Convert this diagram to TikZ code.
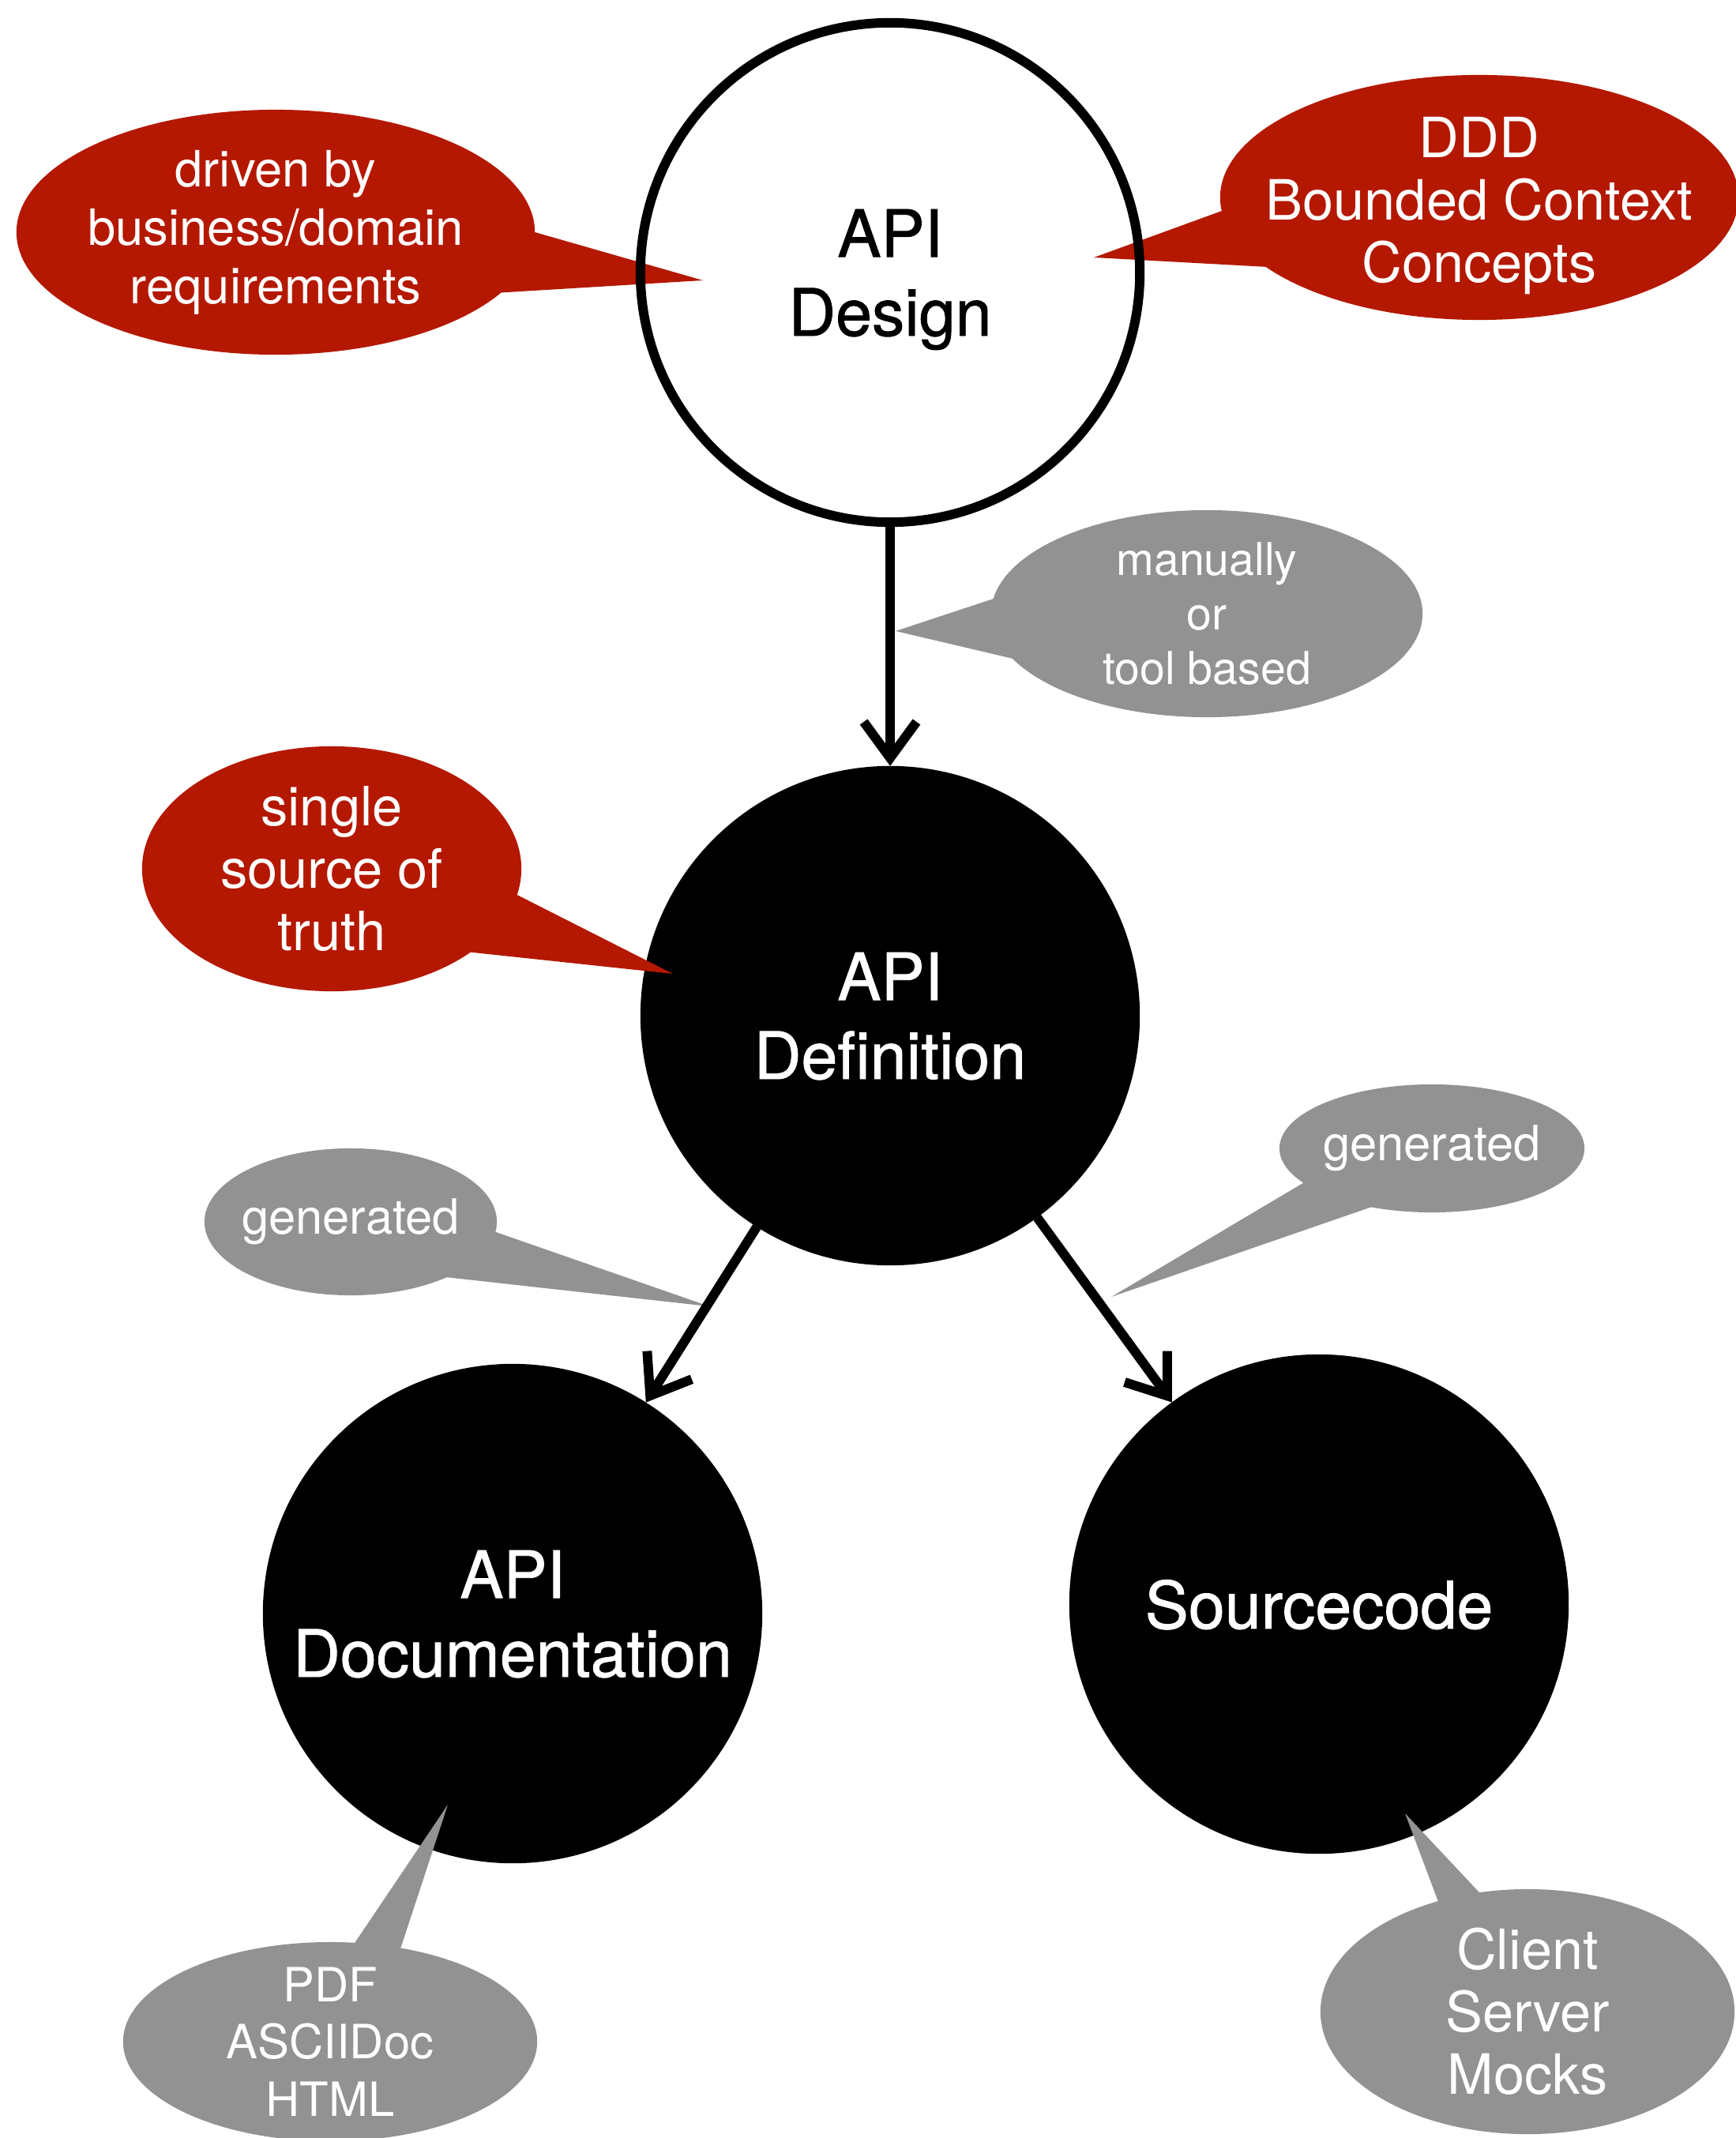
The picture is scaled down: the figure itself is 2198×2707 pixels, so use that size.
\documentclass[tikz,border=0pt]{standalone}
\usepackage{fontspec}
\setmainfont{TeX Gyre Heros}
\newfontfamily\topicfont{TeX Gyre Heros}[FakeBold=1]
\usetikzlibrary{arrows.meta,shapes.geometric}
\definecolor{bubblered}{RGB}{180,24,0}
\definecolor{bubblegray}{RGB}{146,146,146}

\begin{document}
\begin{tikzpicture}[x=0.01cm,y=-0.01cm,
  topic/.style={circle,minimum size=6.32cm,inner sep=0pt,outer sep=0pt,align=center,
    text depth=0pt,font=\topicfont\fontsize{23.5}{28.4}\selectfont},
  dark topic/.style={topic,fill=black,text=white},
  bubble/.style={ellipse,inner sep=0pt,outer sep=0pt},
  redbubble/.style={bubble,fill=bubblered},
  graybubble/.style={bubble,fill=bubblegray},
  bubbletext/.style={align=center,text=white,inner sep=0pt},
  arr/.style={line width=3.4pt,-{Straight Barb[length=13pt,width=19pt]}}]
  \useasboundingbox (0,0) rectangle (2198,2707);

  % filled topics
  \node[dark topic] (definition) at (1127,1286) {API\\Definition};
  \node[dark topic] (documentation) at (649,2043) {API\\Documentation};
  \node[dark topic] (sourcecode) at (1670,2031) {Sourcecode};

  % speech bubbles
  \node[redbubble,minimum width=6.56cm,minimum height=3.1cm] (driven) at (349,294) {};
  \node[redbubble,minimum width=6.56cm,minimum height=3.1cm] (ddd) at (1873,250) {};
  \node[graybubble,minimum width=5.46cm,minimum height=2.62cm] (manual) at (1528,777) {};
  \node[redbubble,minimum width=4.8cm,minimum height=3.1cm] (truth) at (420,1100) {};
  \node[graybubble,minimum width=3.7cm,minimum height=1.86cm] (gendoc) at (444,1547) {};
  \node[graybubble,minimum width=3.86cm,minimum height=1.62cm] (gencode) at (1813,1454) {};
  \node[graybubble,minimum width=5.24cm,minimum height=2.52cm] (formats) at (418,2585) {};
  \node[graybubble,minimum width=5.24cm,minimum height=3.1cm] (targets) at (1934,2547) {};

  \coordinate (driven-tip) at (890,355);
  \coordinate (ddd-tip) at (1385,326);
  \coordinate (manual-tip) at (1134,799);
  \coordinate (truth-tip) at (852,1233);
  \coordinate (gendoc-tip) at (898,1654);
  \coordinate (gencode-tip) at (1407,1642);
  \coordinate (formats-tip) at (567,2285);
  \coordinate (targets-tip) at (1779,2296);
  \foreach \b/\s/\e/\c in {driven/0/-15/bubblered, ddd/183/198/bubblered,
      manual/176/193/bubblegray, truth/-8/-31/bubblered, gendoc/-4/-30/bubblegray,
      gencode/195/224/bubblegray, formats/76/53/bubblegray, targets/129/112/bubblegray}
    \fill[\c] (\b.\s) -- (\b-tip) -- (\b.\e) -- cycle;

  \node[bubbletext,font=\fontsize{18}{21}\selectfont] (driven text) at (driven)
    {driven by\\business/domain\\requirements};
  \node[bubbletext,font=\fontsize{20}{22.5}\selectfont] (ddd text) at ([yshift=-3pt]ddd)
    {DDD\\Bounded Context\\Concepts};
  \node[bubbletext,font=\fontsize{16.3}{19.6}\selectfont] (manual text) at (manual)
    {manually\\or\\tool based};
  \node[bubbletext,font=\fontsize{19.5}{22.5}\selectfont] (truth text) at (truth)
    {single\\source of\\truth};
  \node[bubbletext,font=\fontsize{17.5}{20}\selectfont] (gendoc text) at (gendoc) {generated};
  \node[bubbletext,font=\fontsize{17.5}{20}\selectfont] (gencode text) at (gencode) {generated};
  \node[bubbletext,font=\fontsize{17}{20.6}\selectfont] (formats text) at (formats)
    {PDF\\ASCIIDoc\\HTML};
  \node[bubbletext,font=\fontsize{20}{22.5}\selectfont] (targets text) at (targets)
    {Client\\Server\\Mocks};

  % open topic on top
  \node[topic,draw,line width=3.4pt] (design) at (1127,345) {API\\Design};

  \draw[arr] (design) -- (definition);
  \draw[arr] (definition) -- (documentation);
  \draw[arr] (definition) -- (sourcecode);
\end{tikzpicture}
\end{document}
